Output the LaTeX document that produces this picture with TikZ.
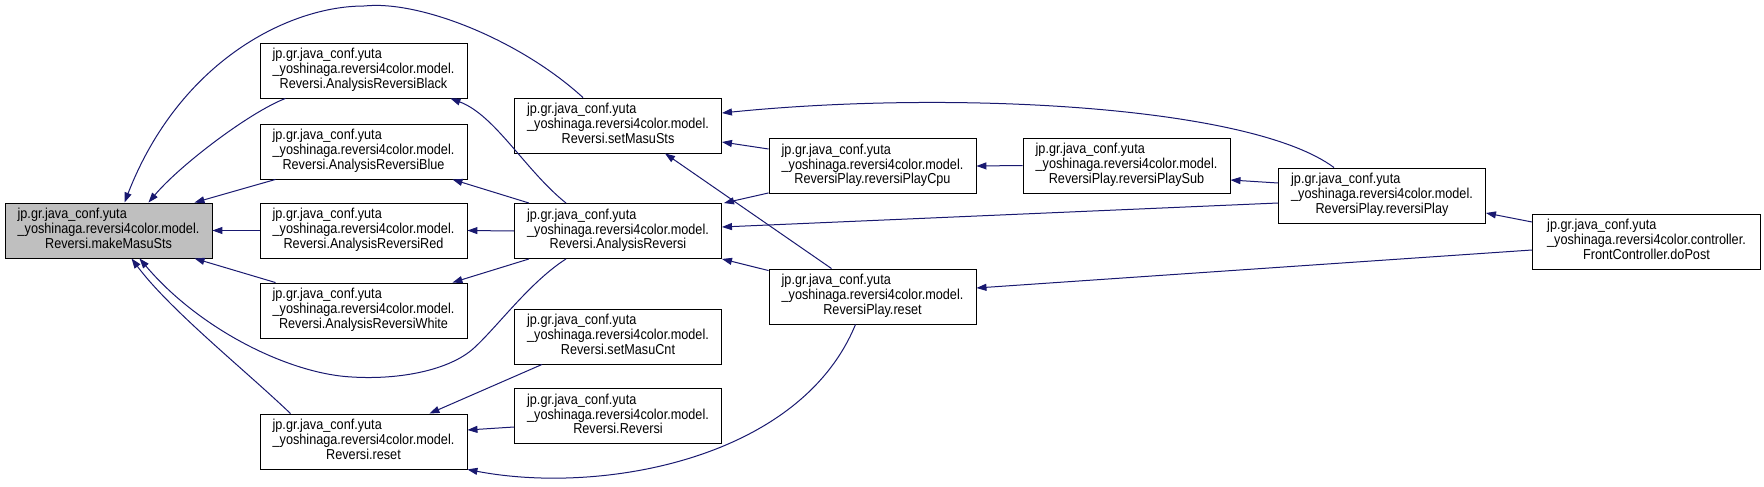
\documentclass[tikz,border=0pt]{standalone}
\usepackage{fontspec}
\setmainfont{Liberation Sans}[FakeStretch=0.88]
\usetikzlibrary{arrows.meta}
\definecolor{edgeblue}{HTML}{191970}
\definecolor{grayfill}{HTML}{BFBFBF}
\newcommand\mylbl[3]{\begin{tabular}{@{}l@{}}#1\\#2\\\multicolumn{1}{@{}c@{}}{#3}\end{tabular}}
\newcommand\mdl[1]{\mylbl{jp.gr.java\_conf.yuta}{\_yoshinaga.reversi4color.model.}{#1}}
\begin{document}
\begin{tikzpicture}[x=1pt,y=-1pt,
 box/.style={draw=black, line width=0.9pt, fill=white, minimum width=207pt, minimum height=55pt, inner sep=0pt, font=\fontsize{14.4}{14.2}\selectfont},
 edge/.style={draw=edgeblue, line width=1pt, -{Triangle[length=10pt,width=7pt]}}]
\useasboundingbox (0,0) rectangle (1764,487);
\fill[white] (0,0) rectangle (1764,487);
\node[box,fill=grayfill] (make) at (108.5,230.5) {\mdl{Reversi.makeMasuSts}};
\node[box] (black) at (363.5,70.5) {\mdl{Reversi.AnalysisReversiBlack}};
\node[box] (blue) at (363.5,151.5) {\mdl{Reversi.AnalysisReversiBlue}};
\node[box] (red) at (363.5,230.5) {\mdl{Reversi.AnalysisReversiRed}};
\node[box] (white) at (363.5,310.5) {\mdl{Reversi.AnalysisReversiWhite}};
\node[box] (rreset) at (363.5,441.5) {\mdl{Reversi.reset}};
\node[box] (setsts) at (618,125.5) {\mdl{Reversi.setMasuSts}};
\node[box] (ar) at (618,231) {\mdl{Reversi.AnalysisReversi}};
\node[box] (setcnt) at (618,336.5) {\mdl{Reversi.setMasuCnt}};
\node[box] (rrev) at (618,416) {\mdl{Reversi.Reversi}};
\node[box] (cpu) at (872.5,166) {\mdl{ReversiPlay.reversiPlayCpu}};
\node[box] (preset) at (872.5,296.5) {\mdl{ReversiPlay.reset}};
\node[box] (sub) at (1126.5,165.5) {\mdl{ReversiPlay.reversiPlaySub}};
\node[box] (play) at (1382,195.5) {\mdl{ReversiPlay.reversiPlay}};
\node[box,minimum width=228pt] (dopost) at (1646.5,241.5) {\mylbl{jp.gr.java\_conf.yuta}{\_yoshinaga.reversi4color.controller.}{FrontController.doPost}};
% edges
\draw[edge] ([xshift=-78pt]black.south) .. controls (250,112) and (180,165) .. ([xshift=40pt]make.north);
\draw[edge] ([xshift=-88pt]blue.south) -- ([xshift=86pt]make.north);
\draw[edge] (red.west) -- (make.east);
\draw[edge] ([xshift=-88pt]white.north) -- ([xshift=86pt]make.south);
\draw[edge] ([xshift=-73pt]rreset.north) .. controls (245,370) and (170,310) .. ([xshift=23pt]make.south);
\draw[edge] ([xshift=-35pt]setsts.north) .. controls (520,40) and (420,0) .. (364,6) .. controls (290,6) and (180,60) .. ([xshift=16pt]make.north);
\draw[edge] ([xshift=-52pt]ar.south) .. controls (530,282) and (498,326) .. (474,348) .. controls (450,370) and (400,380) .. (352,377) .. controls (290,374) and (200,330) .. ([xshift=31pt]make.south);
\draw[edge] ([xshift=-52pt]ar.north) .. controls (525,170) and (495,115) .. ([xshift=-17pt]black.south east);
\draw[edge] ([xshift=15pt]ar.north west) -- ([xshift=-15pt]blue.south east);
\draw[edge] (ar.west) -- (red.east);
\draw[edge] ([xshift=15pt]ar.south west) -- ([xshift=-15pt]white.north east);
\draw[edge] ([xshift=28pt]setcnt.south west) -- ([xshift=-38pt]rreset.north east);
\draw[edge] ([yshift=-11pt]rrev.west) -- ([yshift=11.5pt]rreset.east);
\draw[edge] ([xshift=-17pt]preset.south) .. controls (800,460) and (600,495) .. (rreset.south east);
\draw[edge] ([xshift=-41pt]preset.north) -- ([xshift=47pt]setsts.south);
\draw[edge] ([yshift=17pt]cpu.west) -- ([yshift=-16.5pt]setsts.east);
\draw[edge] ([yshift=1pt]cpu.south west) -- ([xshift=2pt]ar.north east);
\draw[edge] ([yshift=-2pt]preset.north west) -- (ar.south east);
\draw[edge] (sub.west) -- (cpu.east);
\draw[edge] ([yshift=12.5pt]play.west) -- ([yshift=-14.5pt]sub.east);
\draw[edge] ([xshift=-48pt]play.north) .. controls (1250,105) and (950,90) .. ([yshift=12.5pt]setsts.east);
\draw[edge] ([yshift=-7.5pt]play.west) -- ([yshift=4pt]ar.east);
\draw[edge] ([yshift=19.5pt]dopost.west) -- ([yshift=-17.5pt]play.east);
\draw[edge] ([yshift=-8.5pt]dopost.west) -- ([yshift=8.5pt]preset.east);
\end{tikzpicture}
\end{document}
